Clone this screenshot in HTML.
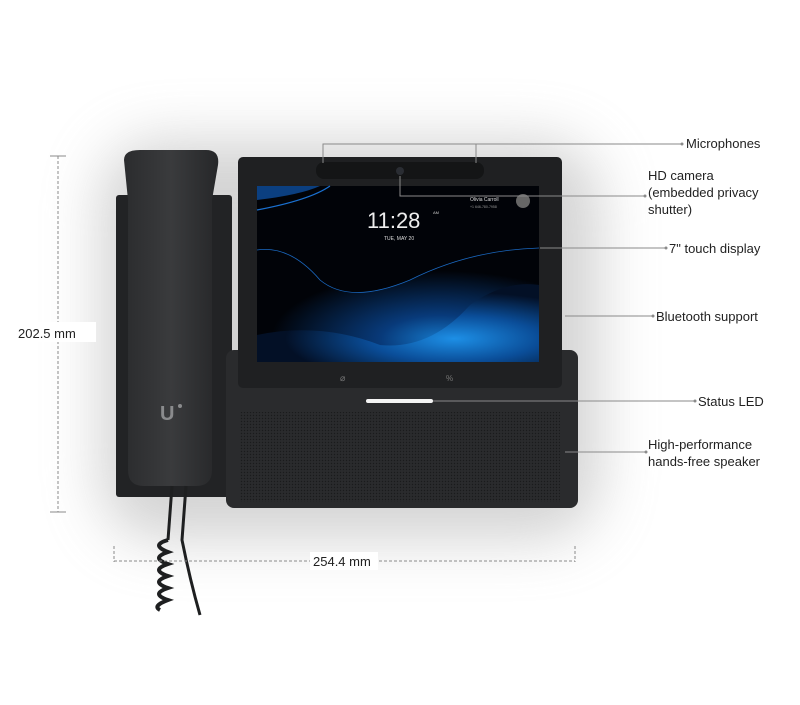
<!DOCTYPE html>
<html><head><meta charset="utf-8"><style>
html,body{margin:0;padding:0;background:#fff;}
svg{display:block;font-family:"Liberation Sans",sans-serif;}
</style></head><body>
<svg width="800" height="705" viewBox="0 0 800 705" xmlns="http://www.w3.org/2000/svg">
<defs>
<filter id="blur" x="-50%" y="-50%" width="200%" height="200%"><feGaussianBlur stdDeviation="28"/></filter>
<radialGradient id="wave1" cx="0.65" cy="0.8" r="0.6">
<stop offset="0" stop-color="#1577c8"/><stop offset="0.35" stop-color="#083a7a"/><stop offset="1" stop-color="#010308"/></radialGradient>
<radialGradient id="wave2" cx="0.7" cy="0.7" r="0.6">
<stop offset="0" stop-color="#1d8fe6"/><stop offset="0.5" stop-color="#0a4d98"/><stop offset="1" stop-color="#031026"/></radialGradient>
<pattern id="dots" width="3" height="3" patternUnits="userSpaceOnUse"><rect width="3" height="3" fill="#2a2b2d"/><circle cx="1.5" cy="1.5" r="0.7" fill="#1a1b1c"/></pattern>
<linearGradient id="hs" x1="0" x2="1"><stop offset="0" stop-color="#2b2c2e"/><stop offset="0.5" stop-color="#3a3b3d"/><stop offset="1" stop-color="#262729"/></linearGradient>
</defs>
<rect width="800" height="705" fill="#fff"/>
<rect x="100" y="140" width="500" height="400" rx="60" fill="#c9c9c9" filter="url(#blur)" opacity="0.8"/>
<rect x="116" y="195" width="116" height="302" rx="3" fill="#222325"/>
<path d="M124 160 Q124 150 140 150 L206 150 Q220 150 218 165 L212 200 L212 470 Q212 486 196 486 L144 486 Q128 486 128 470 L128 200 Z" fill="url(#hs)"/>
<text x="160" y="420" fill="#8a8b8d" font-size="20" font-weight="bold">U</text>
<circle cx="180" cy="406" r="2" fill="#8a8b8d"/>
<path d="M172 486 L168 540 M186 486 L182 540 Q190 580 200 615" stroke="#1e1f20" stroke-width="3" fill="none"/>
<path d="M168 540 Q150 545 168 552 Q150 558 168 564 Q150 570 168 576 Q150 582 168 588 Q150 594 168 600 Q152 606 160 610" stroke="#1e1f20" stroke-width="4" fill="none"/>
<rect x="226" y="350" width="352" height="158" rx="8" fill="#2a2b2d"/>
<rect x="240" y="412" width="320" height="90" fill="url(#dots)"/>
<rect x="366" y="399" width="67" height="4" rx="2" fill="#f4f4f4"/>
<rect x="238" y="157" width="324" height="231" rx="5" fill="#1f2022"/>
<rect x="316" y="162" width="168" height="17" rx="8" fill="#141516"/>
<circle cx="400" cy="171" r="4" fill="#2a2d33"/>
<rect x="257" y="186" width="282" height="176" fill="#010308"/>
<path d="M257 250 Q290 245 320 280 Q350 305 410 280 Q470 250 539 248 L539 362 L257 362 Z" fill="url(#wave1)"/>
<path d="M257 335 Q320 322 380 345 Q430 350 470 305 Q505 280 539 285 L539 362 L257 362 Z" fill="url(#wave2)"/>
<path d="M257 200 Q300 195 320 186 L257 186 Z" fill="#0b3f80"/>
<path d="M257 210 Q310 200 330 186" stroke="#1a70d0" stroke-width="1.2" fill="none"/>
<path d="M257 250 Q290 245 320 280 Q350 305 410 280 Q470 250 539 248" stroke="#1a68c0" stroke-width="0.8" fill="none"/>
<text x="367" y="228" fill="#eee" font-size="22">11:28</text>
<text x="433" y="214" fill="#ccc" font-size="4">AM</text>
<text x="384" y="240" fill="#ddd" font-size="5">TUE, MAY 20</text>
<text x="470" y="201" fill="#ddd" font-size="5">Olivia Carroll</text>
<text x="470" y="208" fill="#999" font-size="3.5">+1 646-780-7958</text>
<circle cx="523" cy="201" r="7" fill="#666"/>
<text x="340" y="381" fill="#777" font-size="9">⌀</text>
<text x="446" y="381" fill="#777" font-size="8">%</text>
<g stroke="#8a8a8a" stroke-width="1" fill="none">
<path d="M323 163 V144 H682"/><path d="M476 163 V144"/>
<path d="M400 176 V196 H645"/>
<path d="M540 248 H666"/>
<path d="M565 316 H653"/>
<path d="M433 401 H695"/>
<path d="M565 452 H646"/>
<path d="M50 156 H66 M50 512 H66"/>
<path d="M114 546 V562 M114 561 H575 M575 546 V562" stroke-dasharray="3 2"/>
<path d="M58 156 V512" stroke-dasharray="3 2"/>
</g>
<g fill="#8a8a8a"><circle cx="682" cy="144" r="1.5"/><circle cx="645" cy="196" r="1.5"/><circle cx="666" cy="248" r="1.5"/><circle cx="653" cy="316" r="1.5"/><circle cx="695" cy="401" r="1.5"/><circle cx="646" cy="452" r="1.5"/></g>
<rect x="16" y="322" width="80" height="20" fill="#fff"/>
<rect x="310" y="552" width="68" height="18" fill="#fff"/>
<g fill="#222" font-size="13">
<text x="686" y="148">Microphones</text>
<text x="648" y="180">HD camera</text>
<text x="648" y="197">(embedded privacy</text>
<text x="648" y="214">shutter)</text>
<text x="669" y="253">7" touch display</text>
<text x="656" y="321">Bluetooth support</text>
<text x="698" y="406">Status LED</text>
<text x="648" y="449">High-performance</text>
<text x="648" y="466">hands-free speaker</text>
<text x="18" y="338">202.5 mm</text>
<text x="313" y="566">254.4 mm</text>
</g>
</svg>
</body></html>
